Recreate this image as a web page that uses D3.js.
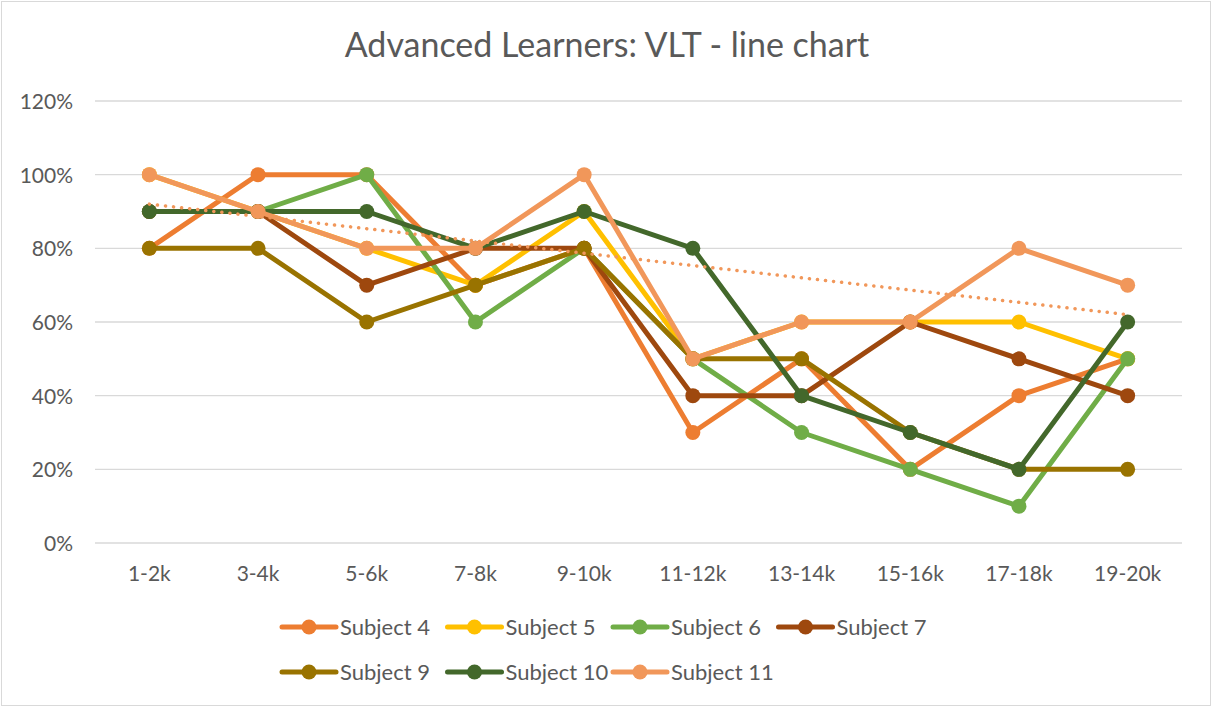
<!DOCTYPE html>
<html>
<head>
<meta charset="utf-8">
<script src="https://cdn.jsdelivr.net/npm/d3@7"></script>
<style>
  html, body { margin: 0; padding: 0; background: #fff; }
  svg { display: block; font-family: "Lato", "Liberation Sans", sans-serif; }
</style>
</head>
<body>
<svg id="chart" width="1212" height="707"></svg>
<script>
const categories = ["1-2k", "3-4k", "5-6k", "7-8k", "9-10k", "11-12k", "13-14k", "15-16k", "17-18k", "19-20k"];
const yTicks = [0, 0.2, 0.4, 0.6, 0.8, 1.0, 1.2];

const subject4  = [0.8, 1.0, 1.0, 0.7, 0.8, 0.3, 0.5, 0.2, 0.4, 0.5];
const subject5  = [1.0, 0.9, 0.8, 0.7, 0.9, 0.5, 0.6, 0.6, 0.6, 0.5];
const subject6  = [0.9, 0.9, 1.0, 0.6, 0.8, 0.5, 0.3, 0.2, 0.1, 0.5];
const subject7  = [0.9, 0.9, 0.7, 0.8, 0.8, 0.4, 0.4, 0.6, 0.5, 0.4];
const subject9  = [0.8, 0.8, 0.6, 0.7, 0.8, 0.5, 0.5, 0.3, 0.2, 0.2];
const subject10 = [0.9, 0.9, 0.9, 0.8, 0.9, 0.8, 0.4, 0.3, 0.2, 0.6];
const subject11 = [1.0, 0.9, 0.8, 0.8, 1.0, 0.5, 0.6, 0.6, 0.8, 0.7];

const seriesNames = ["Subject 4", "Subject 5", "Subject 6", "Subject 7", "Subject 9", "Subject 10", "Subject 11"];
const seriesValues = [subject4, subject5, subject6, subject7, subject9, subject10, subject11];
const seriesColors = ["#ED7D31", "#FFC000", "#70AD47", "#9E480E", "#997300", "#43682B", "#F1975A"];

const svg = d3.select("#chart");
const W = 1212, H = 707;
const plot = { left: 95, right: 1182, top: 101, bottom: 543 };

// chart border
svg.append("rect").attr("x", 1.5).attr("y", 1.5).attr("width", W - 3).attr("height", H - 3)
  .attr("fill", "#fff").attr("stroke", "#D9D9D9").attr("stroke-width", 1);

// title
svg.append("text").attr("x", 607).attr("y", 57).attr("text-anchor", "middle")
  .attr("fill", "#595959").attr("font-size", 34).text("Advanced Learners: VLT - line chart");

const x = d3.scaleBand().domain(categories).range([plot.left, plot.right]);
const y = d3.scaleLinear().domain([0, 1.2]).range([plot.bottom, plot.top]);
const cx = c => x(c) + x.bandwidth() / 2;

// gridlines
svg.append("g").selectAll("line").data(yTicks).join("line")
  .attr("x1", plot.left).attr("x2", plot.right)
  .attr("y1", d => y(d)).attr("y2", d => y(d))
  .attr("stroke", "#D9D9D9").attr("stroke-width", 1.3);

// y axis
const yAxis = svg.append("g").attr("transform", `translate(${plot.left - 22},0)`)
  .call(d3.axisLeft(y).tickValues(yTicks).tickFormat(d3.format(".0%")).tickSize(0).tickPadding(0));
yAxis.select(".domain").remove();
yAxis.selectAll("text").attr("fill", "#595959").attr("font-size", 21).attr("font-family", "Lato").attr("dy", "0.35em");

// x axis
const xAxis = svg.append("g").attr("transform", `translate(0,${plot.bottom + 23})`)
  .call(d3.axisBottom(x).tickSize(0).tickPadding(0));
xAxis.select(".domain").remove();
xAxis.selectAll("text").attr("fill", "#595959").attr("font-size", 21).attr("font-family", "Lato").attr("dy", "0.71em");

// series
const line = d3.line().x((d, i) => cx(categories[i])).y(d => y(d));
seriesValues.forEach((vals, si) => {
  const g = svg.append("g");
  g.append("path").datum(vals).attr("d", line).attr("fill", "none")
    .attr("stroke", seriesColors[si]).attr("stroke-width", 5).attr("stroke-linejoin", "round").attr("stroke-linecap", "round");
  g.selectAll("circle").data(vals).join("circle")
    .attr("cx", (d, i) => cx(categories[i])).attr("cy", d => y(d)).attr("r", 7.5)
    .attr("fill", seriesColors[si]);
});

// linear trendline for Subject 11
{
  const n = subject11.length;
  const xs = d3.range(1, n + 1);
  const mx = d3.mean(xs), my = d3.mean(subject11);
  const slope = d3.sum(xs, (xi, i) => (xi - mx) * (subject11[i] - my)) / d3.sum(xs, xi => (xi - mx) ** 2);
  const icpt = my - slope * mx;
  const tl = [icpt + slope * 1, icpt + slope * n];
  svg.append("line")
    .attr("x1", cx(categories[0])).attr("y1", y(tl[0]))
    .attr("x2", cx(categories[n - 1])).attr("y2", y(tl[1]))
    .attr("stroke", "#F1975A").attr("stroke-width", 3.5).attr("stroke-dasharray", "0.1 8")
    .attr("stroke-linecap", "round");
}

// legend
const legendRows = [[0, 1, 2, 3], [4, 5, 6]];
const legX0 = 282, legStep = 165.5, legY = [627, 672];
legendRows.forEach((row, ri) => {
  row.forEach((si, k) => {
    const gx = legX0 + k * legStep;
    const g = svg.append("g").attr("transform", `translate(${gx},${legY[ri]})`);
    g.append("line").attr("x1", 0).attr("x2", 54).attr("y1", 0).attr("y2", 0)
      .attr("stroke", seriesColors[si]).attr("stroke-width", 5).attr("stroke-linecap", "round");
    g.append("circle").attr("cx", 27).attr("cy", 0).attr("r", 7.5).attr("fill", seriesColors[si]);
    g.append("text").attr("x", 58).attr("y", 0).attr("dy", "0.35em")
      .attr("fill", "#595959").attr("font-size", 22).text(seriesNames[si]);
  });
});
</script>
</body>
</html>
